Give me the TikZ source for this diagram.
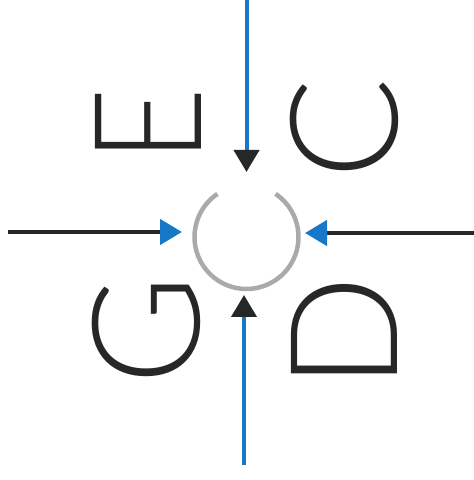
\documentclass[tikz,border=0pt]{standalone}
\usepackage{fontspec}
\usetikzlibrary{arrows.meta}
\IfFontExistsTF{Lato Light}{\newfontfamily\letterfont{Lato Light}}{\newfontfamily\letterfont{Lato}}
\definecolor{flowblue}{RGB}{24,120,200}
\definecolor{ink}{RGB}{38,40,40}
\definecolor{ringgray}{RGB}{170,170,172}
\tikzset{
  letter/.style={inner sep=0pt, rotate=90, text=ink, font=\letterfont\fontsize{150}{150}\selectfont},
  bluein/.style={draw=flowblue, line width=4pt, -{Triangle[length=22pt,width=25pt,color=ink]}},
  blackin/.style={draw=ink, line width=4.5pt, -{Triangle[length=22pt,width=25pt,color=flowblue]}},
  ring/.style={draw=ringgray, line width=4.5pt}
}
\begin{document}
\begin{tikzpicture}[x=1pt,y=1pt]
\useasboundingbox (0,0) rectangle (474,480);
% central ring
\coordinate (hub) at (246.5,243);
\draw[ring] (hub) ++(124:52) arc[start angle=124,end angle=416,radius=52];
% letters
\node[letter, xscale=0.86] (E) at (148,355) {E};
\node[letter] (C) at (344,351) {C};
\node[letter] (G) at (146,150) {G};
\node[letter] (D) at (344.5,147) {D};
% arrow endpoints
\coordinate (topfrom) at (246.5,482);
\coordinate (topto) at (246.5,308);
\coordinate (botfrom) at (244,15);
\coordinate (botto) at (244,185);
\coordinate (leftfrom) at (8,248);
\coordinate (leftto) at (182,248);
\coordinate (rightfrom) at (476,247);
\coordinate (rightto) at (305,247);
\draw[bluein] (topfrom) -- (topto);
\draw[bluein] (botfrom) -- (botto);
\draw[blackin] (leftfrom) -- (leftto);
\draw[blackin] (rightfrom) -- (rightto);
\end{tikzpicture}
\end{document}
